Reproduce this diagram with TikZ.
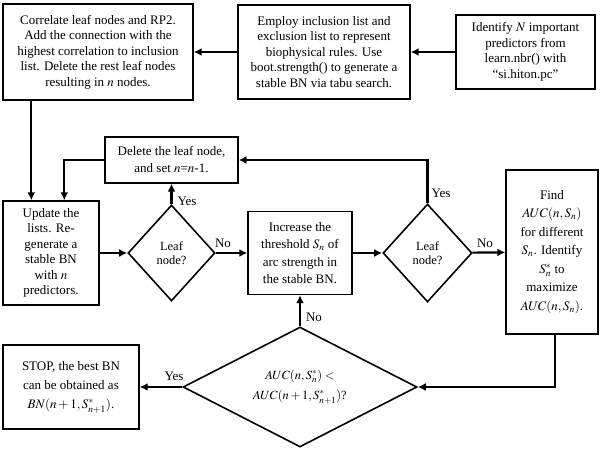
\documentclass[tikz,border=0pt]{standalone}
\usepackage{mathptmx}
\usepackage{fontspec}
\setmainfont{Liberation Serif}
\usetikzlibrary{shapes.geometric,arrows.meta}

\begin{document}
\begin{tikzpicture}[x=1pt,y=-1pt,
	box/.style={draw,line width=1.4pt,align=center,inner sep=0pt,font=\fontsize{13}{15.5}\selectfont},
	decision/.style={draw,diamond,aspect=2,line width=1.6pt,align=center,inner sep=0pt,font=\fontsize{12.5}{13.5}\selectfont},
	arr/.style={line width=2.2pt,-{Latex[length=8pt,width=8pt]}},
	lab/.style={font=\fontsize{13}{15}\selectfont}]
	\useasboundingbox (0,0) rectangle (602,452);

	\coordinate (corr) at (98,52);
	\coordinate (employ) at (324,52);
	\coordinate (ident) at (525.5,52);
	\coordinate (del) at (171.5,160);
	\coordinate (upd) at (51,253);
	\coordinate (leafa) at (171.5,253);
	\coordinate (incr) at (300,253);
	\coordinate (leafb) at (427.5,253);
	\coordinate (find) at (552,252);
	\coordinate (cmp) at (300,387);
	\coordinate (stop) at (71,387);

	\node[box,minimum width=190pt,minimum height=96pt] (Corr) at (corr) {Correlate leaf nodes and RP2.\\ Add the connection with the\\ highest correlation to inclusion\\ list. Delete the rest leaf nodes\\ resulting in $n$ nodes.};
	\node[box,minimum width=172pt,minimum height=94pt] (Employ) at (employ) {Employ inclusion list and\\ exclusion list to represent\\ biophysical rules. Use\\ boot.strength() to generate a\\ stable BN via tabu search.};
	\node[box,minimum width=139pt,minimum height=74pt] (Ident) at (ident) {Identify $N$ important\\ predictors from\\ learn.nbr() with\\ ``si.hiton.pc''};
	\node[box,minimum width=133pt,minimum height=46pt,font=\fontsize{13}{17}\selectfont] (Del) at (del) {Delete the leaf node,\\ and set $n$=$n$-1.};
	\node[box,minimum width=96pt,minimum height=104pt] (Upd) at (upd) {Update the\\ lists. Re-\\ generate a\\ stable BN\\ with $n$\\ predictors.};
	\node[decision,minimum width=87pt,minimum height=96pt] (LeafA) at (leafa) {Leaf\\ node?};
	\node[box,minimum width=104pt,minimum height=83pt,font=\fontsize{13}{17.5}\selectfont] (Incr) at (incr) {Increase the\\ threshold $S_n$ of\\ arc strength in\\ the stable BN.};
	\node[decision,minimum width=89pt,minimum height=98pt] (LeafB) at (leafb) {Leaf\\ node?};
	\node[box,minimum width=92pt,minimum height=164pt,font=\fontsize{13}{18.5}\selectfont] (Find) at (find) {Find\\ $AUC(n,S_n)$\\ for different\\ $S_n$. Identify\\ $S_n^*$ to\\ maximize\\ $AUC(n,S_n)$.};
	\node[decision,minimum width=234pt,minimum height=120pt,font=\fontsize{12.5}{20}\selectfont] (Cmp) at (cmp) {$AUC(n,S_n^*)<$\\ $AUC(n+1,S_{n+1}^*)$?};
	\node[box,minimum width=136pt,minimum height=84pt,font=\fontsize{13}{19}\selectfont] (Stop) at (stop) {STOP, the best BN\\ can be obtained as\\ $BN(n+1,S_{n+1}^*)$.};

	\node[lab] (yesa) at (187,201) {Yes};
	\node[lab] (noa) at (223,243) {No};
	\node[lab] (yesb) at (441,193) {Yes};
	\node[lab] (nob) at (485,243) {No};
	\node[lab] (noc) at (314,317) {No};
	\node[lab] (yesc) at (174,376) {Yes};

	\draw[arr] (Ident) -- (Employ);
	\draw[arr] (Employ) -- (Corr);
	\draw[arr] ([xshift=29pt]Corr.south west) -- ([xshift=29pt]Upd.north west);
	\draw[arr] (Del.west) -| ([xshift=62pt]Upd.north west);
	\draw[arr] (Upd) -- (LeafA);
	\draw[arr] (LeafA) -- (Del);
	\draw[arr] (LeafA) -- (Incr);
	\draw[arr] (Incr) -- (LeafB);
	\draw[arr] (LeafB.north) |- (Del.east);
	\draw[arr] (LeafB) -- (Find);
	\draw[arr] ([xshift=3pt]Find.south) |- (Cmp.east);
	\draw[arr] (Cmp) -- (Incr);
	\draw[arr] (Cmp) -- (Stop);
\end{tikzpicture}
\end{document}
